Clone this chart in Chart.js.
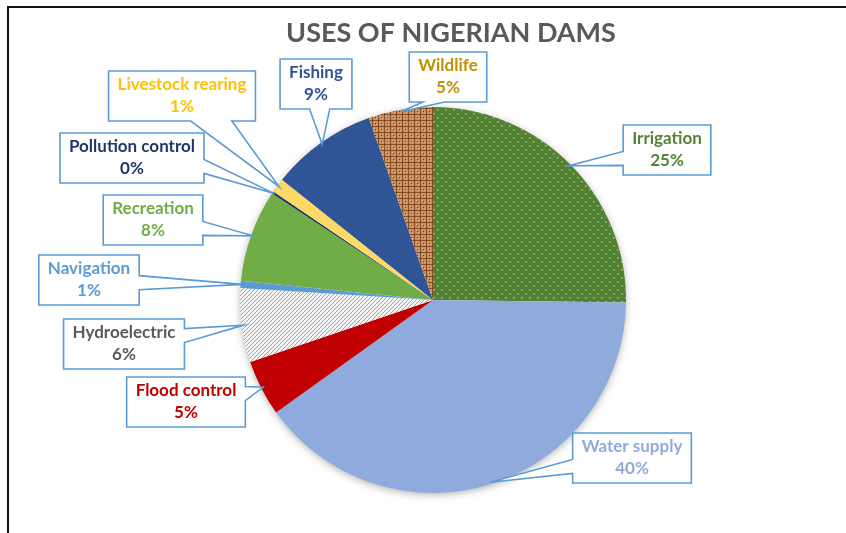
<!DOCTYPE html>
<html>
<head>
<meta charset="utf-8">
<script src="https://cdn.jsdelivr.net/npm/chart.js@4.4.1/dist/chart.umd.min.js"></script>
<style>
  html, body { margin: 0; padding: 0; background: #fff; overflow: hidden; }
  #wrap { position: relative; width: 846px; height: 533px; overflow: hidden; }
  #wrap canvas { position: absolute; left: 0; top: 0; }
  #frame { position: absolute; left: 7px; top: 6px; width: 900px; height: 600px; border: 2px solid #111; }
</style>
</head>
<body>
<div id="wrap">
  <canvas id="chart-dams" width="846" height="533"></canvas>
  <div id="frame"></div>
</div>
<script>
const chartTitle = 'USES OF NIGERIAN DAMS';
const categories = ['Irrigation', 'Water supply', 'Flood control', 'Hydroelectric', 'Navigation',
  'Recreation', 'Pollution control', 'Livestock rearing', 'Fishing', 'Wildlife'];
const shares = [25.2, 39.9, 4.7, 6.2, 0.6, 7.7, 0.2, 1.2, 8.9, 5.4];

// label box centres (layout only)
const calloutPos = [[667, 150], [632, 458], [186, 402], [124, 344], [89, 280],
  [153, 220], [132, 158], [182, 96], [316, 84], [448, 77]];
const labelColors = ['#548235', '#8FAADC', '#C00000', '#595959', '#5B9BD5',
  '#70AD47', '#203864', '#FFC000', '#2F5597', '#BF9000'];

function makePattern(size, draw) {
  const c = document.createElement('canvas');
  c.width = size; c.height = size;
  const g = c.getContext('2d');
  draw(g, size);
  return g.createPattern(c, 'repeat');
}

const dotted = makePattern(8, (g) => {
  g.fillStyle = '#548235'; g.fillRect(0, 0, 8, 8);
  g.fillStyle = '#9DBF8A';
  g.fillRect(1, 1, 1.5, 1.5); g.fillRect(5, 5, 1.5, 1.5);
});
const hatched = makePattern(4, (g) => {
  g.fillStyle = '#f4f4f4'; g.fillRect(0, 0, 4, 4);
  g.strokeStyle = '#9a9a9a'; g.lineWidth = 0.9;
  g.beginPath(); g.moveTo(-1, 5); g.lineTo(5, -1); g.moveTo(-1, 1); g.lineTo(1, -1); g.moveTo(3, 5); g.lineTo(5, 3); g.stroke();
});
const plaid = makePattern(6, (g) => {
  g.fillStyle = '#C98F5E'; g.fillRect(0, 0, 6, 6);
  g.fillStyle = '#8E4F25';
  g.fillRect(0, 0, 6, 1); g.fillRect(0, 0, 1, 6);
  g.fillStyle = '#6A3312';
  g.fillRect(0, 0, 1, 1); g.fillRect(3, 3, 1, 1);
  g.fillStyle = '#E2B98C';
  g.fillRect(2, 2, 1, 1); g.fillRect(4, 4, 1, 1);
});

const sliceColors = [dotted, '#8FAADC', '#C00000', hatched, '#5B9BD5',
  '#70AD47', '#203864', '#FFD966', '#2F5597', plaid];

function wedgeBase(a0, a1, t) {
  const half = (a1 - a0) * 0.14, mid = (a0 + a1) / 2;
  const c = Math.min(Math.max(t, a0 + half + 4), a1 - half - 4);
  const m = mid + 0.6 * (c - mid);
  return [m - half, m + half];
}

function calloutPath(ctx, bx, by, bw, bh, tx, ty) {
  const r = bx + bw, b = by + bh;
  const ox = tx < bx ? bx - tx : (tx > r ? tx - r : 0);
  const oy = ty < by ? by - ty : (ty > b ? ty - b : 0);
  const side = ox >= oy ? (tx < bx ? 'left' : 'right') : (ty < by ? 'top' : 'bottom');
  ctx.beginPath();
  ctx.moveTo(bx, by);
  if (side === 'top') { const [p, q] = wedgeBase(bx, r, tx); ctx.lineTo(p, by); ctx.lineTo(tx, ty); ctx.lineTo(q, by); }
  ctx.lineTo(r, by);
  if (side === 'right') { const [p, q] = wedgeBase(by, b, ty); ctx.lineTo(r, p); ctx.lineTo(tx, ty); ctx.lineTo(r, q); }
  ctx.lineTo(r, b);
  if (side === 'bottom') { const [p, q] = wedgeBase(bx, r, tx); ctx.lineTo(q, b); ctx.lineTo(tx, ty); ctx.lineTo(p, b); }
  ctx.lineTo(bx, b);
  if (side === 'left') { const [p, q] = wedgeBase(by, b, ty); ctx.lineTo(bx, q); ctx.lineTo(tx, ty); ctx.lineTo(bx, p); }
  ctx.closePath();
}

const pieShadow = {
  id: 'pieShadow',
  beforeDatasetsDraw(chart) {
    const arc = chart.getDatasetMeta(0).data[0];
    if (!arc) return;
    const { x, y, outerRadius } = arc.getProps(['x', 'y', 'outerRadius'], true);
    const ctx = chart.ctx;
    ctx.save();
    ctx.shadowColor = 'rgba(0,0,0,0.35)';
    ctx.shadowBlur = 8;
    ctx.shadowOffsetY = 2;
    ctx.fillStyle = '#fff';
    ctx.beginPath(); ctx.arc(x, y, outerRadius - 1, 0, Math.PI * 2); ctx.fill();
    ctx.restore();
  }
};

const callouts = {
  id: 'callouts',
  afterDatasetsDraw(chart) {
    const ctx = chart.ctx;
    const meta = chart.getDatasetMeta(0);
    ctx.save();
    ctx.font = 'bold 17px Lato';
    ctx.textAlign = 'center';
    ctx.textBaseline = 'middle';
    meta.data.forEach((arc, i) => {
      const { x, y, startAngle, endAngle, outerRadius } = arc.getProps(['x', 'y', 'startAngle', 'endAngle', 'outerRadius'], true);
      const mid = (startAngle + endAngle) / 2;
      const tx = x + Math.cos(mid) * outerRadius * 0.99;
      const ty = y + Math.sin(mid) * outerRadius * 0.99;
      const name = categories[i];
      const pct = Math.round(shares[i]) + '%';
      const w = Math.max(ctx.measureText(name).width, ctx.measureText(pct).width) + 18;
      const h = 50;
      const [cx, cy] = calloutPos[i];
      calloutPath(ctx, cx - w / 2, cy - h / 2, w, h, tx, ty);
      ctx.fillStyle = '#fff';
      ctx.fill();
      ctx.strokeStyle = '#5B9BD5';
      ctx.lineWidth = 1.6;
      ctx.stroke();
      ctx.fillStyle = labelColors[i];
      ctx.fillText(name, cx, cy - 11);
      ctx.fillText(pct, cx, cy + 11);
    });
    ctx.restore();
  },
  afterDraw(chart) {
    const ctx = chart.ctx;
    ctx.save();
    ctx.font = 'bold 27px Lato';
    ctx.fillStyle = '#595959';
    ctx.textAlign = 'center';
    ctx.textBaseline = 'middle';
    ctx.fillText(chartTitle, 451, 33);
    ctx.restore();
  }
};

new Chart(document.getElementById('chart-dams'), {
  type: 'pie',
  data: {
    labels: categories,
    datasets: [{ data: shares, backgroundColor: sliceColors, borderWidth: 0, hoverOffset: 0 }]
  },
  options: {
    responsive: false,
    animation: false,
    devicePixelRatio: 1,
    layout: { padding: { top: 107, bottom: 40, left: 20, right: 0 } },
    plugins: { legend: { display: false }, title: { display: false }, tooltip: { enabled: false } }
  },
  plugins: [pieShadow, callouts]
});
</script>
</body>
</html>
